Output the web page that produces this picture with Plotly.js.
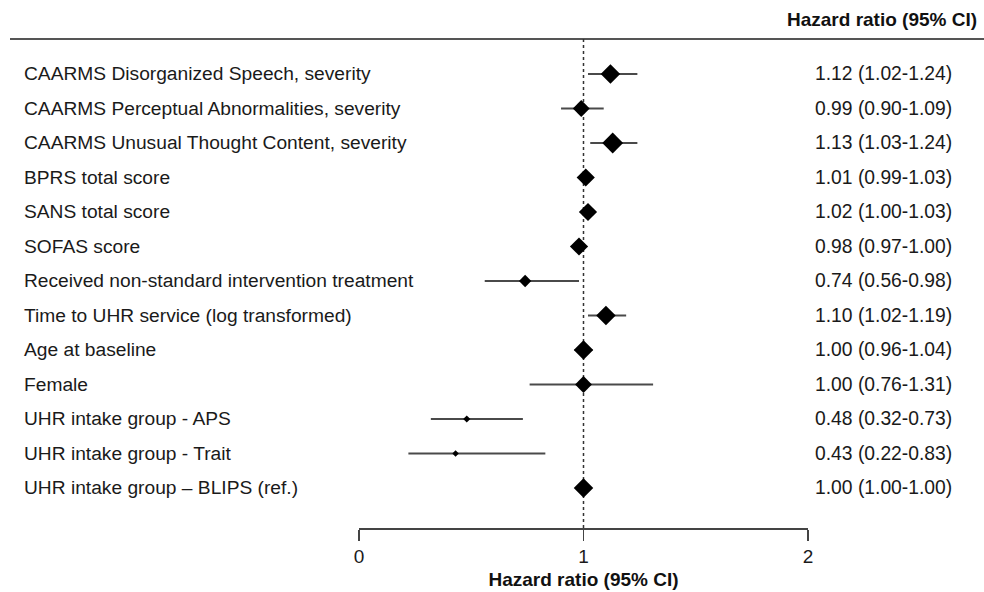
<!DOCTYPE html>
<html>
<head>
<meta charset="utf-8">
<script src="https://cdn.plot.ly/plotly-3.0.1.min.js"></script>
<style>html,body{margin:0;padding:0;background:#fff;}#chart{width:984px;height:592px;}</style>
</head>
<body>
<div id="chart"></div>
<script>
// ---- data ----
const labels = [
  "CAARMS Disorganized Speech, severity",
  "CAARMS Perceptual Abnormalities, severity",
  "CAARMS Unusual Thought Content, severity",
  "BPRS total score",
  "SANS total score",
  "SOFAS score",
  "Received non-standard intervention treatment",
  "Time to UHR service (log transformed)",
  "Age at baseline",
  "Female",
  "UHR intake group - APS",
  "UHR intake group - Trait",
  "UHR intake group \u2013 BLIPS (ref.)"
];
const hr    = [1.12, 0.99, 1.13, 1.01, 1.02, 0.98, 0.74, 1.10, 1.00, 1.00, 0.48, 0.43, 1.00];
const lower = [1.02, 0.90, 1.03, 0.99, 1.00, 0.97, 0.56, 1.02, 0.96, 0.76, 0.32, 0.22, 1.00];
const upper = [1.24, 1.09, 1.24, 1.03, 1.03, 1.00, 0.98, 1.19, 1.04, 1.31, 0.73, 0.83, 1.00];
const xTicks = [0, 1, 2];
const axisTitle = "Hazard ratio (95% CI)";

// ---- style ----
const markerSize = [15, 13, 16, 14, 14, 14, 9.5, 15, 15, 13, 5.5, 5, 15];
const W = 984, H = 592;
const FONT = "Liberation Sans, Arial, sans-serif";

const rows = labels.map((_, i) => i);
const fmt = v => v.toFixed(2);
const hrText = hr.map((v, i) => `${fmt(v)} (${fmt(lower[i])}-${fmt(upper[i])})`);

const trace = {
  type: "scatter",
  mode: "markers",
  x: hr,
  y: rows,
  marker: {symbol: "diamond", color: "#000", size: markerSize, opacity: 1, line: {width: 0}},
  error_x: {
    type: "data",
    symmetric: false,
    array: upper.map((u, i) => u - hr[i]),
    arrayminus: hr.map((h, i) => h - lower[i]),
    color: "#4a4a4a",
    thickness: 2,
    width: 0
  },
  cliponaxis: false,
  hoverinfo: "skip"
};

const annotations = [];
labels.forEach((t, i) => {
  annotations.push({xref: "paper", yref: "y", x: 22 / W, y: i, text: t, showarrow: false,
    xanchor: "left", yanchor: "middle", font: {family: FONT, size: 19.2, color: "#1a1a1a"}});
  annotations.push({xref: "paper", yref: "y", x: 813 / W, y: i, text: hrText[i], showarrow: false,
    xanchor: "left", yanchor: "middle", font: {family: FONT, size: 19.3, color: "#1a1a1a"}});
});
annotations.push({xref: "paper", yref: "paper", x: 979 / W, y: 1 - 20 / H, text: "<b>" + axisTitle + "</b>",
  showarrow: false, xanchor: "right", yanchor: "middle", font: {family: FONT, size: 19, color: "#111"}});

const layout = {
  width: W, height: H,
  margin: {l: 0, r: 0, t: 0, b: 0},
  paper_bgcolor: "#fff", plot_bgcolor: "#fff",
  showlegend: false,
  xaxis: {
    domain: [359 / W, 808 / W],
    range: [0, 2],
    tickvals: xTicks,
    ticktext: xTicks.map(String),
    showgrid: false, zeroline: false,
    showline: true, linecolor: "#444", linewidth: 1.5,
    ticks: "outside", ticklen: 11, tickwidth: 1.5, tickcolor: "#444",
    tickfont: {family: FONT, size: 19, color: "#1a1a1a"},
    title: {text: "<b>" + axisTitle + "</b>", font: {family: FONT, size: 19, color: "#111"}, standoff: 6}
  },
  yaxis: {
    domain: [1 - 528 / H, 1 - 39 / H],
    range: [13.16, -1.014],
    showgrid: false, zeroline: false, showline: false,
    showticklabels: false, ticks: ""
  },
  shapes: [
    {type: "line", xref: "paper", yref: "paper", x0: 10 / W, x1: 1, y0: 1 - 39 / H, y1: 1 - 39 / H,
      line: {color: "#555", width: 2}, layer: "below"},
    {type: "line", xref: "x", yref: "paper", x0: 1, x1: 1, y0: 1 - 528 / H, y1: 1 - 39 / H,
      line: {color: "#333", width: 1.5, dash: "dot"}, layer: "below"}
  ],
  annotations: annotations
};

Plotly.newPlot("chart", [trace], layout, {staticPlot: true, displayModeBar: false});
</script>
</body>
</html>
